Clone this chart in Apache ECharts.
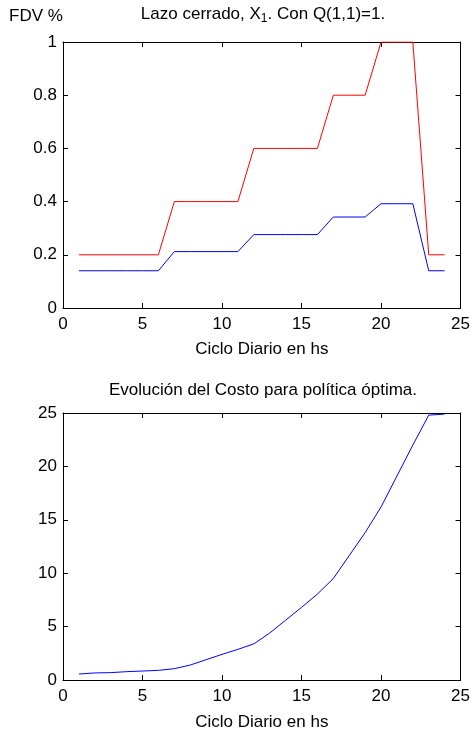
<!DOCTYPE html>
<html>
<head>
<meta charset="utf-8">
<title>Lazo cerrado</title>
<script src="https://cdn.jsdelivr.net/npm/echarts@6/dist/echarts.min.js"></script>
<style>
	html, body { margin: 0; padding: 0; background: #fff; }
	#main { width: 473px; height: 734px; }
</style>
</head>
<body>
<div id="main"></div>
<script>
// horas del ciclo diario
var hours = [1, 2, 3, 4, 5, 6, 7, 8, 9, 10, 11, 12, 13, 14, 15, 16, 17, 18, 19, 20, 21, 22, 23, 24];
// FDV % (lazo cerrado)
var fdvRed = [0.2, 0.2, 0.2, 0.2, 0.2, 0.2, 0.4, 0.4, 0.4, 0.4, 0.4, 0.6, 0.6, 0.6, 0.6, 0.6, 0.8, 0.8, 0.8, 1, 1, 1, 0.2, 0.2];
var fdvBlue = [0.14, 0.14, 0.14, 0.14, 0.14, 0.14, 0.212, 0.212, 0.212, 0.212, 0.212, 0.276, 0.276, 0.276, 0.276, 0.276, 0.342, 0.342, 0.342, 0.392, 0.392, 0.392, 0.14, 0.14];
// costo acumulado
var cost = [0.56, 0.66, 0.69, 0.78, 0.84, 0.9, 1.06, 1.4, 1.9, 2.4, 2.87, 3.38, 4.4, 5.6, 6.8, 8.05, 9.5, 11.65, 13.8, 16.2, 19.1, 22.0, 24.8, 24.9];
// ticks
var xTicks = [0, 5, 10, 15, 20, 25];
var fdvTicks = [0, 0.2, 0.4, 0.6, 0.8, 1];
var costTicks = [0, 5, 10, 15, 20, 25];

var font = 'Liberation Sans, Arial, sans-serif';
var fs = 17;

function pairs(xs, ys) {
	var out = [];
	for (var i = 0; i < xs.length; i++) {
		out.push([xs[i], ys[i]]);
	}
	return out;
}

function xAxisOf(grid, pos, withLabel, name) {
	return {
		type: 'value',
		gridIndex: grid,
		position: pos,
		min: xTicks[0],
		max: xTicks[xTicks.length - 1],
		interval: xTicks[1] - xTicks[0],
		name: name || '',
		nameLocation: 'middle',
		nameGap: grid == 0 ? 33 : 34,
		nameTextStyle: { color: '#000', fontSize: fs, fontFamily: font },
		axisLine: { show: true, onZero: false, lineStyle: { color: '#000', width: 1 } },
		axisTick: { show: true, inside: true, length: 5, lineStyle: { color: '#000' } },
		axisLabel: { show: withLabel, color: '#000', fontSize: fs, fontFamily: font, margin: 8 },
		splitLine: { show: false }
	};
}

function yAxisOf(grid, pos, ticks, withLabel) {
	return {
		type: 'value',
		gridIndex: grid,
		position: pos,
		min: ticks[0],
		max: ticks[ticks.length - 1],
		interval: ticks[1] - ticks[0],
		axisLine: { show: true, onZero: false, lineStyle: { color: '#000', width: 1 } },
		axisTick: { show: true, inside: true, length: 5, lineStyle: { color: '#000' } },
		axisLabel: { show: withLabel, color: '#000', fontSize: fs, fontFamily: font, margin: 6 },
		splitLine: { show: false }
	};
}

var chart = echarts.init(document.getElementById('main'));
var option = {
	backgroundColor: '#fff',
	animation: false,
	title: [{
		text: 'Lazo cerrado, X{sub|1}. Con Q(1,1)=1.',
		left: 263,
		top: 4,
		textAlign: 'center',
		padding: 0,
		textStyle: {
			color: '#000', fontSize: fs, fontWeight: 'normal', fontFamily: font,
			rich: {
				sub: { fontSize: 12, fontFamily: font, color: '#000', padding: [9, 0, 0, 0] }
			}
		}
	}, {
		text: 'FDV %',
		left: 9,
		top: 8,
		padding: 0,
		textStyle: { color: '#000', fontSize: fs, fontWeight: 'normal', fontFamily: font }
	}, {
		text: 'Evolución del Costo para política óptima.',
		left: 263,
		top: 382,
		textAlign: 'center',
		padding: 0,
		textStyle: { color: '#000', fontSize: fs, fontWeight: 'normal', fontFamily: font }
	}],
	grid: [
		{ left: 63, top: 42, width: 400, height: 266 },
		{ left: 63, top: 413, width: 400, height: 267 }
	],
	xAxis: [
		xAxisOf(0, 'bottom', true, 'Ciclo Diario en hs'),
		xAxisOf(0, 'top', false),
		xAxisOf(1, 'bottom', true, 'Ciclo Diario en hs'),
		xAxisOf(1, 'top', false)
	],
	yAxis: [
		yAxisOf(0, 'left', fdvTicks, true),
		yAxisOf(0, 'right', fdvTicks, false),
		yAxisOf(1, 'left', costTicks, true),
		yAxisOf(1, 'right', costTicks, false)
	],
	series: [{
		type: 'line',
		xAxisIndex: 0,
		yAxisIndex: 0,
		showSymbol: false,
		lineStyle: { color: '#ff0000', width: 1 },
		data: pairs(hours, fdvRed)
	}, {
		type: 'line',
		xAxisIndex: 0,
		yAxisIndex: 0,
		showSymbol: false,
		lineStyle: { color: '#0000ff', width: 1 },
		data: pairs(hours, fdvBlue)
	}, {
		type: 'line',
		xAxisIndex: 2,
		yAxisIndex: 2,
		showSymbol: false,
		lineStyle: { color: '#0000ff', width: 1 },
		data: pairs(hours, cost)
	}]
};
chart.setOption(option);
</script>
</body>
</html>
